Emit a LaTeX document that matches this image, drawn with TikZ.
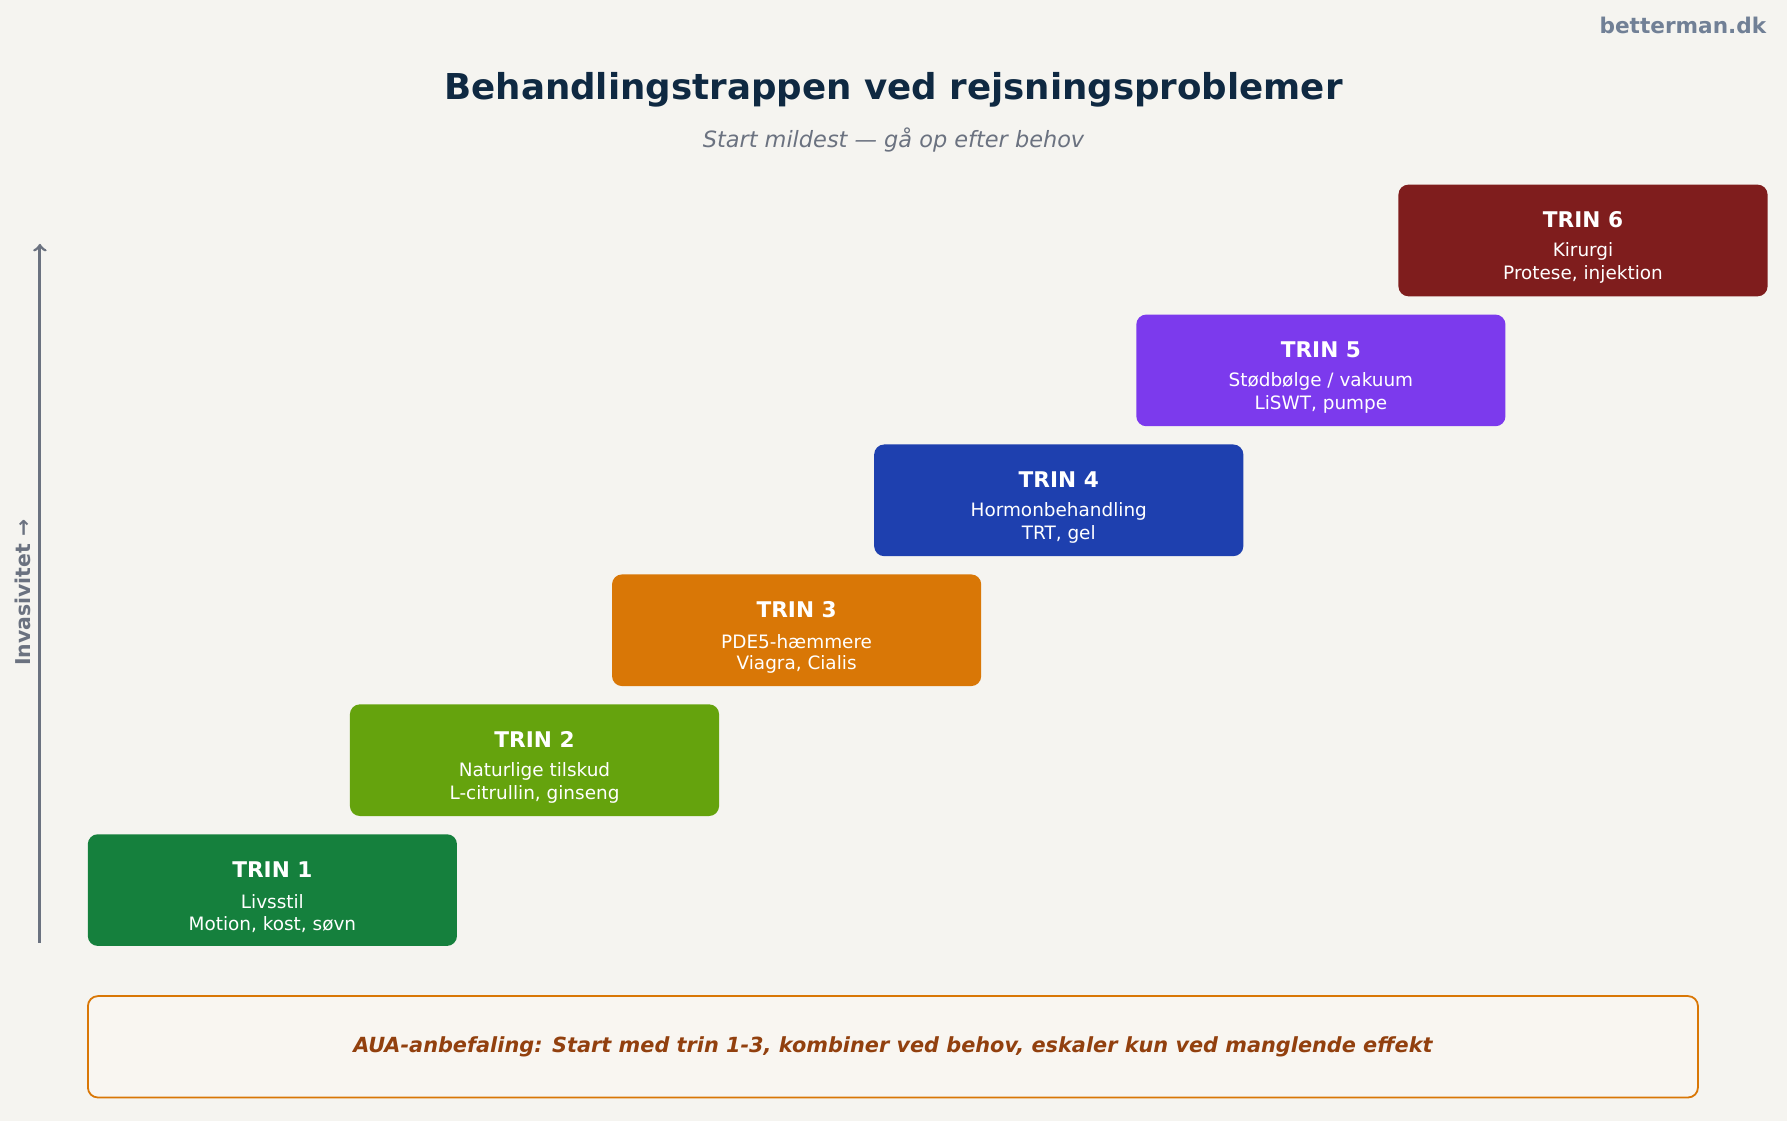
\documentclass[tikz,border=0pt]{standalone}
\usepackage{fontspec}
\setmainfont{DejaVu Sans}
\usetikzlibrary{positioning}
\definecolor{bgc}{HTML}{F5F4F0}
\definecolor{titlec}{HTML}{0F2942}
\definecolor{greyc}{HTML}{6B7280}
\definecolor{brandc}{HTML}{718096}
\definecolor{stepA}{HTML}{15803D}
\definecolor{stepB}{HTML}{65A30D}
\definecolor{stepC}{HTML}{D97706}
\definecolor{stepD}{HTML}{1E40AF}
\definecolor{stepE}{HTML}{7C3AED}
\definecolor{stepF}{HTML}{7F1D1D}
\definecolor{notec}{HTML}{92400E}
\definecolor{notebg}{HTML}{F9F6F1}
\tikzset{
  stepbox/.style={rounded corners=5pt, minimum width=6.48cm, minimum height=1.96cm, inner sep=0pt},
  steptitle/.style={text=white, font=\fontsize{10.8}{12}\selectfont\bfseries},
  steptext/.style={text=white, font=\fontsize{9.2}{10}\selectfont},
}
\begin{document}
\begin{tikzpicture}[x=0.02cm,y=-0.02cm]
  \fill[bgc] (0,0) rectangle (1568,984);
  \node[anchor=east, text=brandc, font=\fontsize{10.8}{12}\selectfont\bfseries] (brand) at (1556,22) {betterman.dk};
  \node[text=titlec, font=\fontsize{17.8}{20}\selectfont\bfseries] (title) at (784,79) {Behandlingstrappen ved rejsningsproblemer};
  \node[text=greyc, font=\fontsize{11.2}{12}\selectfont\itshape] (subtitle) at (784,123) {Start mildest — gå op efter behov};
  % axis
  \coordinate (axisbot) at (35,827);
  \coordinate (axistop) at (35,214);
  \draw[greyc, line width=1.4pt, ->] (axisbot) -- (axistop);
  \node[rotate=90, text=greyc, font=\fontsize{10.2}{12}\selectfont\bfseries] (axislabel) at (20,520) {Invasivitet →};
  % steps
  \foreach \i/\col/\la/\lb in {1/stepA/Livsstil/{Motion, kost, søvn},
      2/stepB/Naturlige tilskud/{L-citrullin, ginseng},
      3/stepC/PDE5-hæmmere/{Viagra, Cialis},
      4/stepD/Hormonbehandling/{TRT, gel},
      5/stepE/{Stødbølge / vakuum}/{LiSWT, pumpe},
      6/stepF/Kirurgi/{Protese, injektion}}{
    \node[stepbox, fill=\col] (step\i) at ({239+230*(\i-1)},{781-114*(\i-1)}) {};
    \node[steptitle] (steptitle\i) at ([yshift=0.36cm]step\i.center) {TRIN \i};
    \node[steptext] (stepla\i) at ([yshift=-0.2cm]step\i.center) {\la};
    \node[steptext] (steplb\i) at ([yshift=-0.6cm]step\i.center) {\lb};
  }
  % recommendation
  \node[draw=stepC, fill=notebg, line width=0.9pt, rounded corners=5pt, minimum width=28.26cm, minimum height=1.78cm, text=notec, font=\fontsize{10.4}{12}\selectfont\bfseries\itshape] (note) at (783.5,918.5) {AUA-anbefaling: Start med trin 1-3, kombiner ved behov, eskaler kun ved manglende effekt};
\end{tikzpicture}
\end{document}
